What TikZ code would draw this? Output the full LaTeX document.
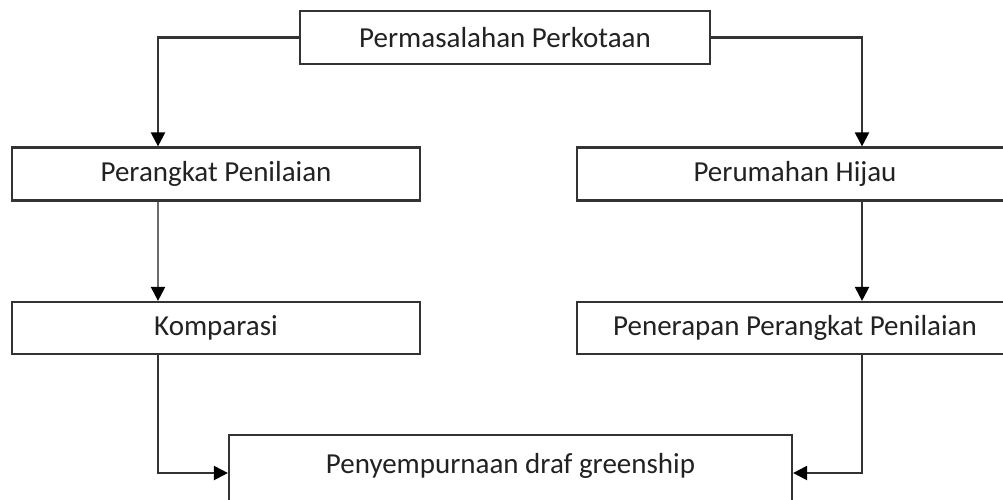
\documentclass[tikz,border=0pt]{standalone}
\usepackage{fontspec}
\setmainfont{Carlito}
\usetikzlibrary{arrows.meta}
\definecolor{linec}{HTML}{333333}
\definecolor{textc}{HTML}{222222}
\tikzset{
  boxnode/.style={draw=linec, line width=2.2pt, fill=white, inner sep=0pt,
    minimum height=53pt, text=textc, font=\fontsize{29}{34}\selectfont},
  conn/.style={draw=linec, line width=2.2pt, -{Triangle[length=14pt,width=14pt,fill=black,color=black]}},
}
\begin{document}
\begin{tikzpicture}[x=1pt,y=-1pt]
\useasboundingbox (0,0) rectangle (1003,499);
\clip (0,0) rectangle (1003,499);
\node[boxnode, minimum width=410pt] (top) at (505,37.5) {Permasalahan Perkotaan};
\node[boxnode, minimum width=408pt] (perang) at (216,174) {Perangkat Penilaian};
\node[boxnode, minimum width=436pt] (peru) at (795,174) {Perumahan Hijau};
\node[boxnode, minimum width=408pt, minimum height=52pt] (komp) at (216,328) {Komparasi};
\node[boxnode, minimum width=436pt, minimum height=52pt] (pener) at (795,328) {Penerapan Perangkat Penilaian};
\node[boxnode, minimum width=563pt, anchor=north, minimum height=0pt, text height=38pt, text depth=70pt] (bottom) at (510.5,434) {Penyempurnaan draf greenship};
\coordinate (lin) at ([yshift=-39pt]bottom.north west);
\coordinate (rin) at ([yshift=-39pt]bottom.north east);
\draw[conn] (top.west) -| ([xshift=-58pt]perang.north);
\draw[conn] (top.east) -| ([xshift=67pt]peru.north);
\draw[conn, draw=gray!85!black] ([xshift=-58pt]perang.south) -- ([xshift=-58pt]komp.north);
\draw[conn] ([xshift=67pt]peru.south) -- ([xshift=67pt]pener.north);
\draw[conn] ([xshift=-58pt]komp.south) |- (lin);
\draw[conn] ([xshift=67pt]pener.south) |- (rin);
\end{tikzpicture}
\end{document}
